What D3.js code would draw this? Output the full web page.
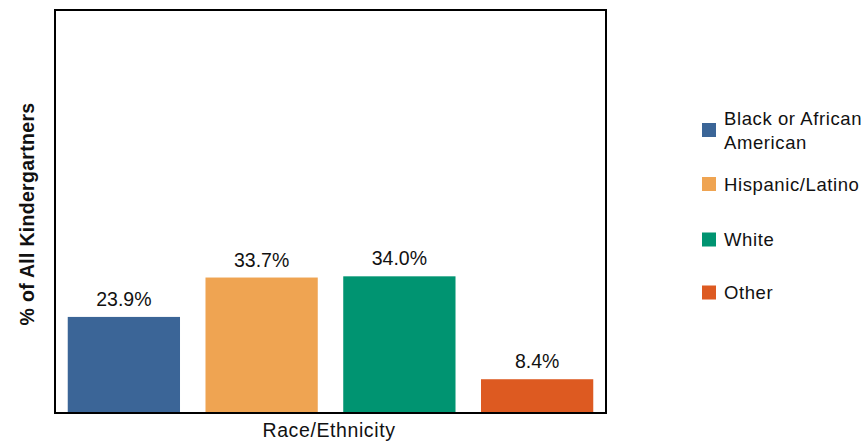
<!DOCTYPE html>
<html>
<head>
<meta charset="utf-8">
<style>
  body { margin: 0; background: #fff; }
  svg { display: block; font-family: 'Liberation Sans', Arial, sans-serif; }
</style>
</head>
<body>
<svg width="867" height="442"></svg>
<script src="https://d3js.org/d3.v7.min.js"></script>
<script>
  // data
  const categories = ["Black or African American", "Hispanic/Latino", "White", "Other"];
  const values = [23.9, 33.7, 34.0, 8.4];
  const colors = ["#3b6597", "#efa452", "#009471", "#dd5a21"];
  const legendLines = [["Black or African", "American"], ["Hispanic/Latino"], ["White"], ["Other"]];

  const svg = d3.select("svg");
  const plotLeft = 55, plotRight = 606, plotTop = 11, plotBottom = 413;

  let x = d3.scaleBand()
    .domain(categories)
    .range([plotLeft, plotRight])
    .paddingInner(0.185)
    .paddingOuter(0.0925);

  let y = d3.scaleLinear()
    .domain([0, 100])
    .range([plotBottom, plotTop]);

  // bars
  svg.selectAll(".bar")
    .data(categories)
    .join("rect")
    .attr("class", "bar")
    .attr("x", d => x(d))
    .attr("width", x.bandwidth())
    .attr("y", (d, i) => y(values[i]))
    .attr("height", (d, i) => y(0) - y(values[i]))
    .style("fill", (d, i) => colors[i]);

  // value labels
  svg.selectAll(".lbl")
    .data(categories)
    .join("text")
    .attr("class", "lbl")
    .attr("x", d => x(d) + x.bandwidth() / 2)
    .attr("y", (d, i) => y(values[i]) - 11)
    .attr("text-anchor", "middle")
    .style("font-size", "19.5px")
    .style("fill", "#111")
    .text((d, i) => values[i].toFixed(1) + "%");

  // plot frame
  svg.append("rect")
    .attr("x", plotLeft)
    .attr("y", plotTop - 1)
    .attr("width", plotRight - plotLeft)
    .attr("height", plotBottom - plotTop + 1)
    .style("fill", "none")
    .style("stroke", "#000")
    .style("stroke-width", 2);

  // axis titles
  svg.append("text")
    .attr("x", 329)
    .attr("y", 437)
    .attr("text-anchor", "middle")
    .style("font-size", "19.5px")
    .style("letter-spacing", "0.6px")
    .style("fill", "#111")
    .text("Race/Ethnicity");

  svg.append("text")
    .attr("transform", "translate(34,214) rotate(-90)")
    .attr("text-anchor", "middle")
    .style("font-size", "19.5px")
    .style("font-weight", "bold")
    .style("letter-spacing", "0.3px")
    .style("fill", "#111")
    .text("% of All Kindergartners");

  // legend
  const legendY = [130, 184, 239.5, 292.5];
  let legend = svg.selectAll(".leg")
    .data(categories)
    .join("g")
    .attr("class", "leg")
    .attr("transform", (d, i) => "translate(702," + legendY[i] + ")");

  legend.append("rect")
    .attr("x", 0)
    .attr("y", -7)
    .attr("width", 14)
    .attr("height", 14)
    .style("fill", (d, i) => colors[i]);

  legend.append("text")
    .attr("x", 22)
    .attr("y", (d, i) => legendLines[i].length > 1 ? -5 : 6.5)
    .style("font-size", "18.5px")
    .style("letter-spacing", "0.6px")
    .style("fill", "#111")
    .selectAll("tspan")
    .data((d, i) => legendLines[i])
    .join("tspan")
    .attr("x", 22)
    .attr("dy", (t, j) => j === 0 ? 0 : 23.5)
    .text(t => t);
</script>
</body>
</html>
